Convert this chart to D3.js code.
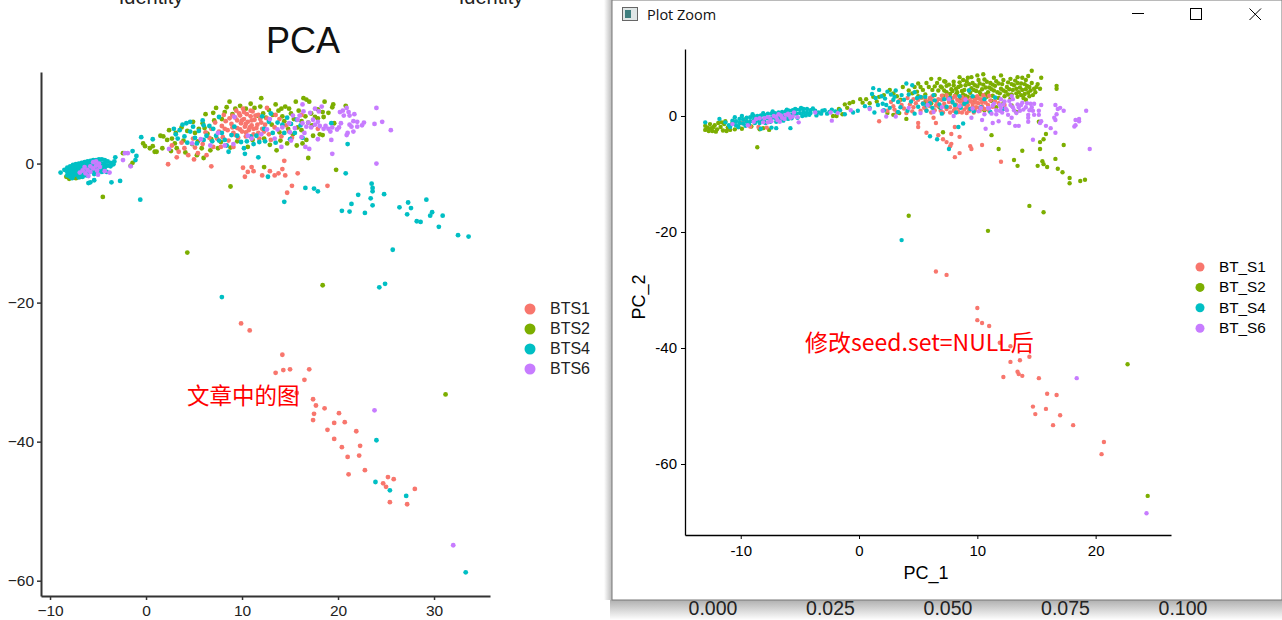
<!DOCTYPE html>
<html><head><meta charset="utf-8">
<script src="https://cdn.jsdelivr.net/npm/d3@7/dist/d3.min.js"></script>
<style>html,body{margin:0;padding:0;background:#fff;overflow:hidden}svg{display:block}</style>
</head><body><svg id="c" width="1282" height="620"></svg>
<script>
const colors=["#7CAE00","#F8766D","#00BFC4","#C77CFF"];
const leftLabels=["BTS1","BTS2","BTS4","BTS6"];
const rightLabels=["BT_S1","BT_S2","BT_S4","BT_S6"];
const legendColors=["#F8766D","#7CAE00","#00BFC4","#C77CFF"];
const leftXTicks=[-10,0,10,20,30];
const leftYTicks=[0,-20,-40,-60];
const rightXTicks=[-10,0,10,20];
const rightYTicks=[0,-20,-40,-60];
const bottomAxisLabels=["0.000","0.025","0.050","0.075","0.100"];

const leftGreen=[[-4.5,-4.8],[4.3,-12.8],[18.4,-17.5],[31.2,-33.2],[8.8,-3.3],[12.3,-0.5],[-8.3,-1.9],[-8,-2.2],[-7.3,-2.1],[-6.8,-1.9],[-2.4,1.5],[-1.4,0.1],[-1.6,-0.3],[-0.3,2.9],[-0.1,2.5],[0.4,2.2],[0.7,2.5],[0.9,1.7],[1.1,1.7],[1.7,2.2],[1.5,4],[1.8,3.9],[2.2,3.4],[2.7,3.6],[3,2.9],[3.2,2.2],[2.6,1.8],[4.1,1.6],[4.8,2.8],[5.3,1.2],[6,0.8],[5.4,3.2],[6.7,1.9],[3.7,5.2],[4.9,6],[5.5,5],[7.3,8],[8.7,8.9],[9,7.1],[10.4,7.9],[10.9,8.6],[12,9.4],[13.5,8.5],[14.9,7.9],[15.1,7.2],[16.4,9.4],[15.9,7.6],[16.7,9.2],[17,8.9],[18.6,8.9],[19.5,8.5],[19.4,8.1],[20.8,8.3],[18.4,7.4],[19,7.3],[18.5,6.7],[17.9,6.5],[17.6,6.7],[19.6,5.8],[17.3,5.5],[16.2,4.8],[17.4,4],[16.7,3.4],[18.1,4.2],[18.4,4.1],[16.9,0.8],[19.8,-0.9],[16.2,6.1],[14.2,6.8],[13.1,5.6],[12.2,7.2],[11.6,6.9],[7.1,6.2],[6.4,4.3],[7.8,3.1],[8.8,2.3],[9.5,3.2],[10.6,2.4],[12.3,3.6],[13.6,1.9],[14.7,2.9],[15.3,4.2],[13.9,4.5],[15.7,2.6],[6.2,7.1],[8.2,7.4],[14.5,8.2],[15.6,8.9],[3.1,4.4],[5.9,5.8],
[2.4,4.8],[3.9,3.3],[4.3,4.7],[5.1,4.4],[5.8,2.2],[6.1,5.1],[6.8,3.5],[7,7.3],[7.5,2.2],[7.9,6.4],[8.4,8.1],[9.3,7.9],[9.8,8.3],[11.3,8],[11.9,8.2],[12.5,6.6],[12.8,7.7],[13.2,7],[13.8,7.6],[14.1,7.9],[14.4,6.1],[14.8,5],[15.4,6.4],[15.8,5.2],[16.6,6.8],[16.9,5.9],[17.2,7.2],[11.1,3.4],[12.9,2.7],[14,3.3],[16.3,2.9],[17.9,7.8]];
const leftRed=[[2.3,-0.1],[6.8,-0.4],[10.1,-0.6],[11,-0.5],[10.6,-1.2],[11.2,-1.1],[10.3,-1.9],[12.1,-1.7],[12.9,-1.1],[13.4,-1.7],[13.8,-1.4],[14.2,-0.8],[14.5,-1.7],[14.4,0.4],[15.8,-1.4],[15.2,-3.2],[14.7,-4.2],[18.9,-3.2],[9.9,-23],[10.8,-24],[14.2,-27.5],[13.5,-30.1],[14.3,-29.7],[15,-29.6],[17,-29.6],[16.5,-31.1],[15.7,-33],[17.4,-33.9],[17.7,-34.8],[18.6,-35.2],[20.1,-35.9],[17.5,-36],[17.4,-36.9],[19.6,-37.3],[20.7,-37.2],[18.9,-38.3],[21.9,-38.5],[19.6,-39.6],[20.4,-40.8],[22.3,-40.6],[21,-42.2],[22.2,-42],[22.8,-44.1],[21.1,-44.7],[25.2,-45.1],[25.8,-45.4],[24.7,-46],[25,-46.5],[28,-46.8],[25.4,-48.7],[27.2,-49],[16.2,7],[17.9,5],[2.7,2.6],[3.4,1.7],[3.2,0.9],[4,2.2],[4.9,3.6],[5.4,1.5],[5.9,2.8],[6.6,3.7],[6.3,1.2],[7,2.4],[7.6,4.6],[7.9,5.4],[8,3.8],[8.3,6.1],[8.5,4.8],[8.6,3.3],[8.9,5.7],[9,6.9],[9.1,4.4],[9.4,7.6],[9.5,6.2],[9.5,5.1],[9.6,3.7],[9.8,6.9],[9.9,5.8],[10,4.6],[10.1,7.9],[10.2,6.4],[10.3,5.3],[10.4,3.9],[10.5,7.1],[10.6,6],[10.7,4.8],[10.9,6.8],[11,5.5],[11.1,7.5],[11.2,4.2],[11.3,6.3],[11.5,5.1],[11.7,7],[11.8,3.6],[12,5.9],[12.3,4.6],[12.6,6.5],[13,3.4],[13.4,5.2],[13.9,6.4],[14.6,5.5],[15.2,3.7],[7.2,5.9],[6.8,5],[8.1,7],[4.4,1.2],[12.6,8],[5,0.6],[9.1,2.4],
[8.2,5],[8.7,6.5],[9,5.2],[9.3,6.6],[9.3,4.1],[9.7,7.2],[9.8,4.9],[10,6.2],[10.2,7.4],[10.4,5.7],[10.4,4.5],[10.8,5.2],[10.9,7.6],[11,6.2],[11.2,5],[11.4,6.9],[11.6,5.6],[11.7,4.4],[11.9,6.4],[12.1,5],[12.4,5.6],[7.4,3.6],[6.2,4.5],[5.1,2.3],[3.7,3],[14.9,4.6],[13.5,7],[12.8,4.2],[7.8,2.4],[14.1,3.9]];
const leftCyan=[[-8.5,-0.9],[-8.2,-0.6],[-8.2,-1.2],[-8.2,-1.7],[-7.9,-0.4],[-7.9,-0.9],[-7.9,-1.4],[-7.9,-1.9],[-7.6,-0.2],[-7.6,-0.8],[-7.6,-1.3],[-7.6,-1.8],[-7.3,-0.1],[-7.3,-0.6],[-7.3,-1.1],[-7.3,-1.6],[-7,0],[-7,-0.5],[-7,-1],[-7,-1.5],[-6.7,0.1],[-6.7,-0.4],[-6.7,-0.9],[-6.7,-1.4],[-6.4,0.2],[-6.4,-0.3],[-6.4,-0.8],[-6.4,-1.3],[-6.1,0.3],[-6.1,-0.2],[-6.1,-0.7],[-6.1,-1.2],[-5.8,0.4],[-5.8,-0.1],[-5.8,-0.6],[-5.8,-1.1],[-5.5,0.5],[-5.5,0],[-5.5,-0.5],[-5.5,-1],[-5.2,0.5],[-5.2,0],[-5.2,-0.5],[-5.2,-1],[-4.9,0.6],[-4.9,0.1],[-4.9,-0.4],[-4.9,-1],[-4.6,0.6],[-4.6,0],[-4.6,-0.6],[-4.3,0.5],[-4.3,-0.1],[-4.3,-0.6],[-4,0.3],[-4,-0.3],[-3.7,0.1],[-3.7,-0.4],[-3.2,0.9],[-3.4,-0.1],[-0.6,-5.2],[-2.7,-2.5],[-3.6,-2.7],[-5.8,-2.7],[-6,-2.8],[-5.4,-2.4],[-8.9,-1.3],[-4.1,-1.2],[-0.5,3.8],[0.7,3.5],[-1.4,1.8],[-1,1.1],[-1.1,0.5],[3.8,5.6],[4.2,5.8],[4.6,6],[3.1,4.2],[2.9,5],[3.3,3.6],[4,3.9],[4.6,4.6],[5.1,3.7],[5.5,4.7],[6,3.4],[5.9,6.2],[6.9,3.2],[7,5],[7.6,3.3],[8.4,2.6],[8.6,1.7],[10.3,1.4],[11.7,0.9],[12.7,-1.9],[14.4,-5.5],[7.9,-19.2],[24.3,-17.8],[24.9,-17.3],[9.2,5.3],[9.5,4],[10.5,3.2],[11.2,2.8],[11.8,3.1],[12.3,5],[12.8,6],[13,7.2],[13.7,5.9],[14.4,4.4],[14.7,6.6],[15.1,5.7],[16.1,5.5],[16.3,3.7],[7.6,6.7],[7.9,4.4],[8.9,4.1],[21,2.8],[20.8,-1.4],[16.6,-3.5],[17.5,-3.6],[17.9,-4],[23.5,-2.9],[23.6,-3.5],[23.6,-4],[24.8,-4.4],[22.1,-4.5],[23.4,-5],[21.4,-5.8],[23.6,-6],[20.4,-6.8],[21.2,-6.9],[22.8,-7.1],[26.4,-6.3],[27.3,-5.6],[27.6,-6.4],[29.2,-5.2],[27.2,-7.3],[28.2,-8.3],[28.6,-8.4],[29.8,-7],[29.6,-7.5],[30.9,-7.5],[30.5,-9.1],[32.5,-10.3],[33.6,-10.5],[25.7,-12.4],[24,-39.8],[23.9,-45.8],[25.4,-47],[27.1,-47.8],[33.3,-58.8],[19.3,5.8],
[-7.7,-2.1],[-7,-2],[-6.6,-1.9],[-6.2,-1.7],[-5.4,-1.5],[-4.6,-1.2],[-3.3,0.3],[3.5,4.8],[4.3,3],[4.9,5.3],[5.3,2.9],[6.3,4],[6.6,5.4],[7.3,4],[8.2,3.4],[9.9,3.1],[10.2,2.2],[10.9,3.9],[11.5,4],[12.4,3.2],[13.2,4.4],[13.5,3],[14.2,5.6],[15,3.5],[15.7,6.3],[15.5,4.4],[12.1,6.8],[6,5.5]];
const leftPurple=[[-6.6,-1],[-6.4,-0.5],[-6.3,-1.4],[-6.1,-0.9],[-6,-1.8],[-5.8,-0.4],[-5.8,-1.2],[-5.5,0.2],[-5.5,-0.7],[-5.2,0.3],[-5.2,-0.3],[-5.1,-1],[-4.9,0],[-4.8,-0.5],[-4.3,-1.1],[-3.8,-1.3],[-5,-1.6],[-1.9,1.5],[-1.6,-0.4],[-2.4,0.5],[-2.2,1.5],[2.4,2.1],[4.8,2.9],[5.7,3.5],[6.7,2.6],[7.5,4.4],[8.2,2.6],[9.1,2.8],[9.2,6.7],[10.6,4],[11,3.6],[12,4.2],[12.6,4.9],[13.4,3.6],[14.2,5.2],[14.9,5.8],[15.3,6.9],[15.8,6.3],[15.1,3.3],[14.1,2.4],[16.3,8.5],[16.4,7.5],[16.3,5.8],[16.2,3.8],[16.6,2.4],[17,2.1],[17.1,7.3],[17.4,6.3],[16.7,5.3],[17.6,7.9],[17.9,3.5],[18.1,5.4],[18.3,8.2],[18.5,5],[19,5],[19.3,3.4],[19.4,1.4],[19.4,5.2],[19.9,4.9],[20.1,5.2],[20.2,7.4],[20.3,5.8],[20.5,7.6],[20.6,6.9],[20.9,8],[20.9,4.1],[21,4.4],[21.1,7.4],[21.2,6.9],[21.2,5.6],[21.4,5.3],[21.6,6.1],[21.6,4.6],[21.7,7.1],[22,6],[22,5.3],[22.5,5.5],[22.7,5.9],[23.8,5.7],[24,8],[24.6,6],[25.5,4.8],[24,0],[23.8,-35.5],[32,-54.9],
[16.9,5.9],[17.2,5.2],[17.6,5.6],[17.9,6],[18.7,5.4],[16,6.9],[16.5,4.4],[15.5,5.1],[15,4.5],[13.7,4.9],[12.9,6.4],[18,7.5],[19.2,4.6],[-6.9,-1.3]];

const rightGreen=[[-13,-1.7],[-13,-2.4],[-12.7,-2.6],[-12.5,-2.1],[-12.4,-2.6],[-12.2,-1.6],[-12,-2.3],[-11.9,-1.2],[-11.7,-1.9],[-11.5,-2.5],[-11.4,-1.4],[-11.3,-0.9],[-11.1,-2],[-10.9,-2.4],[-10.7,-1.2],[-10.5,-2.3],[-12.8,-2],[-12.3,-1.9],[-8.6,-5.4],[-8.4,-2.3],[-2.2,0],[-1.9,0],[-0.8,2.2],[-0.5,2.4],[-1,1.4],[-1.4,0.3],[0.1,2.9],[0.6,2.9],[1.2,3.3],[0.9,2.2],[1.7,3.3],[2.4,0.5],[2.9,0.2],[4,-0.5],[3.4,0.5],[3.7,5],[2.6,4.5],[3.2,3.4],[5.2,5],[6.1,6.4],[6.8,6.4],[5.7,5.7],[5.4,4.5],[6.2,4.5],[7.3,5.9],[8,5.9],[8.5,6.7],[8.8,6.2],[9.5,6.7],[10,7],[10.5,7.2],[12,7],[13.4,6.7],[14.6,7.8],[15.4,6.6],[16.7,5.2],[16.7,4.7],[15.1,5.5],[14.6,5.7],[14.1,6.2],[12.8,6.4],[15.3,4.7],[14.9,4.1],[14.7,3.6],[15.2,-1],
[4.5,3.9],[5,3.4],[5.6,3.7],[6,3],[6.4,3.6],[6.7,4.4],[6.9,5.1],[7.1,3.5],[7.2,4.4],[7.4,5.2],[7.5,3],[7.7,3.8],[7.8,4.6],[8,5.3],[8.1,3.4],[8.3,4.1],[8.4,5],[8.5,5.8],[8.6,3],[8.8,3.7],[8.9,4.5],[9,5.3],[9.1,6],[9.2,3.3],[9.4,4],[9.5,4.8],[9.6,5.7],[9.8,3.2],[9.9,4.3],[10,5.1],[10.1,6.2],[10.3,3.7],[10.4,4.6],[10.5,5.4],[10.6,6.3],[10.8,3.3],[10.9,4.1],[11,4.9],[11.1,5.7],[11.3,3.5],[11.4,4.4],[11.5,5.2],[11.6,6],[11.8,3.1],[11.9,3.9],[12,4.7],[12.1,5.5],[12.3,3.4],[12.4,4.2],[12.5,5],[12.6,5.8],[12.8,3],[12.9,3.7],[13,4.5],[13.1,5.3],[13.2,6.1],[13.4,3.3],[13.5,4.1],[13.6,4.9],[13.7,5.6],[13.9,3.1],[14,3.8],[14.1,4.6],[14.2,5.2],[14.4,3.4],[14.5,4.4],[11.2,2.6],[12.2,2.2],[12.9,1.8],[11.6,1.5],[13.3,0.7],[14.1,2.8],[9.7,2.4],[10.6,1],[6.8,1.5],[5.6,2.4],
[7.1,-2.8],[11.2,-3.3],[11.8,-5.7],[13.8,-6],[13.1,-7.6],[13.4,-8.6],[15.1,-8.6],[15.5,-7.8],[15.6,-8.3],[15.9,-8.8],[16.6,-7.4],[16.8,-9.1],[17.2,-9.7],[17.8,-10.7],[17.8,-11.6],[18.7,-11.2],[19.1,-11],[15.8,-3.1],[15.6,-4],[15.3,-4.5],[15.3,-5.7],[17.3,-5],[14.4,-15.5],[15.6,-16.6],[4.2,-17.2],[10.9,-19.8],[22.7,-42.8],[24.4,-65.5],
[-12.6,-1.4],[-12.1,-2.7],[-11.6,-1.1],[-11.2,-2.6],[-10.2,-1.9],[-9.9,-2.2],[-9.6,-0.6],[-9.1,-1.8],[-8.1,-2.1],[-7.6,-2.4],[-1.7,1.2],[-1.2,2],[0.3,2.3],[1.5,2.5],[2.1,3.6],[2.9,3.9],[3.5,2.8],[4.2,4.4],[4.7,5],[4.9,4.2],[5.3,3.2],[5.9,5],[6.4,5.1],[6.6,5.7],[7,4.9],[7.4,4.1],[7.6,5.4],[7.9,4.3],[8.2,4.7],[8.2,3.7],[8.6,5.2],[8.7,4.3],[9,3.5],[9.3,5.5],[9.3,4.4],[9.7,4.5],[9.8,5.3],[10.2,4.1],[10.2,5.6],[10.7,4.9],[10.7,3.7],[10.8,5.9],[11.2,4.6],[11.3,5.4],[11.7,4.1],[11.8,5.6],[12.2,4.4],[12.2,6.2],[12.6,3.7],[12.7,4.6],[12.9,5.5],[13.3,3.9],[13.3,4.7],[13.4,5.7],[13.7,3.6],[13.8,4.5],[14,5.5],[14.3,4],[14.4,5],[14.8,4.7],[15,5],[7.2,6],[9.2,6.6],[11.4,6.6],[13.8,6.6],[14.3,6.9],[5,5.6],[6.1,2.2]];
const rightRed=[[-10.6,-0.9],[-10,-1.2],[-9.7,-0.7],[-9.2,-1.8],[-8.5,-1.9],[-7.8,-2],[1.7,-0.9],[2.9,1.7],[3.2,0.6],[3.4,2.6],[3.8,1.3],[4.1,3.1],[4.5,0.8],[4.8,2.2],[5,-1.2],[5,-1.9],[5.2,3.2],[5.5,1.4],[5.7,-2.9],[5.8,2.5],[6.1,0.6],[6.2,3.4],[6.3,-0.3],[6.5,1.8],[6.5,-1.2],[6.7,2.9],[6.7,-3.3],[6.9,0.9],[7,3.5],[7.1,-4],[7.2,2.1],[7.4,-4.5],[7.4,1.2],[7.5,3.1],[7.7,-5.2],[7.7,0.6],[7.8,-3.1],[7.8,-4.8],[7.9,2.3],[8.1,3.4],[8.1,1.2],[8.1,-1.9],[8.1,-7.1],[8.3,2.8],[8.4,0.7],[8.5,-3.6],[8.5,-6.4],[8.6,1.8],[8.7,3.3],[8.8,2.4],[8.9,1.1],[9,3],[9.1,0.5],[9.2,1.9],[9.3,2.6],[9.4,-5.2],[9.4,1.2],[9.5,-5.7],[9.5,3.2],[9.6,2.1],[9.7,0.6],[9.8,2.8],[9.9,1.5],[10,3.4],[10.1,2.2],[10.2,0.9],[10.3,2.9],[10.4,1.7],[10.4,-5],[10.5,3.6],[10.7,2.3],[11,3.5],[11.3,1.6],[11.5,2.6],[11.8,2.2],[12,-7.9],[12.3,1.9],[10,-33.1],[10,-35.2],[10.4,-35.7],[11,-36.2],[11.9,-39.1],[12.8,-39.7],[12.8,-42.4],[13.6,-42.1],[14.4,-41.5],[13.4,-44.1],[13.5,-44.5],[13.8,-44.8],[12.2,-45],[15.2,-45.2],[15.9,-47.9],[16.7,-48.1],[14.7,-50.1],[15.8,-50.5],[14.9,-51.4],[17,-51.6],[16.4,-53.3],[18.1,-53.3],[20.7,-56.2],[20.5,-58.3],[6.5,-26.8],[7.4,-27.4],
[2.4,0.9],[2.7,2.4],[3,1.1],[3.6,1.9],[4,0.5],[4.3,2],[4.6,1.5],[5,2.8],[5.2,0.9],[5.4,2.2],[5.7,1],[6,1.7],[6.2,2.7],[6.4,1],[6.6,2.3],[6.8,1.7],[7,2.8],[7.1,0.6],[7.3,1.6],[7.6,2.4],[7.7,1.5],[7.9,3.1],[8,0.9],[8.2,2],[8.4,1.4],[8.5,2.5],[8.7,0.6],[8.9,2],[9,2.6],[9.1,1.5],[9.3,0.9],[9.5,2.5],[9.6,1.6],[9.8,1],[9.9,2.3],[10.1,3],[10.2,1.4],[10.4,2.4],[10.6,1.2],[10.6,3.2],[10.9,1.9],[11.1,2.7],[11,0.9],[8.8,3],[7.4,3.6],[6,3.1],[5.6,3],[4.6,2.9]];
const rightCyan=[[-11.3,-1.1],[-11,-1.6],[-10.7,-0.8],[-10.7,-1.4],[-10.4,-0.9],[-10.4,-1.6],[-10.1,-0.5],[-10.1,-1.2],[-9.8,-0.6],[-9.8,-1.3],[-9.5,-0.3],[-9.5,-1],[-9.2,-0.2],[-9.2,-0.9],[-8.9,0],[-8.9,-0.7],[-8.6,0],[-8.6,-0.8],[-8.3,0.1],[-8.3,-0.6],[-8,0.2],[-8,-0.6],[-7.7,0.4],[-7.7,-0.4],[-7.4,0.4],[-7.4,-0.4],[-7.1,0.5],[-7.1,-0.3],[-6.8,0.6],[-6.8,-0.2],[-6.5,0.7],[-6.5,0],[-6.2,0.8],[-6.2,0.1],[-5.9,0.9],[-5.9,0.2],[-5.6,1],[-5.6,0.3],[-5.3,1.1],[-5.3,0.4],[-5,1.1],[-5,0.5],[-4.7,1.2],[-4.7,0.6],[-4.4,1.2],[-4.4,0.6],[-4.1,1],[-4.1,0.5],[-3.7,0.9],[-3.4,0.6],[-3.1,0.9],[-2.7,0.4],[-2.3,1.1],[-2,0.8],[-1.6,1],[-1.2,0.3],[-8.3,-2.2],[-7.4,-2],[-7,-2.1],[-5.8,-2.1],[-13,-1.1],[-11.8,-0.5],[0.5,1.7],[-0.1,0.9],[-0.5,0.6],[1.1,3.8],[1.2,4.8],[1.7,4.5],[2,2.1],[2.2,3],[2.6,1.4],[2.7,3.7],[3.3,2.4],[3.1,4.4],[3.6,3.6],[4,5.6],[4.5,5.3],[4.7,4.1],[5.2,3.3],[5.4,2.1],[5.7,0.9],[6.2,1.4],[6.4,2.7],[6.6,-4],[6.8,2],[7,0.4],[7.4,1.6],[7.6,-5.7],[7.2,2.9],[7.9,2.4],[8.2,0.6],[8.4,-1.9],[8.5,3.4],[8.6,1.4],[8.8,-1.3],[6,-3.5],[9.1,2.4],[9.3,4.4],[9.6,3.4],[9.7,0.8],[10.3,1.5],[10.6,2.9],[11.1,0.7],[11.5,3.2],[12.2,1.2],[5.7,1.8],[3.6,-21.4],
[-10.9,-1.9],[-10.5,-0.2],[-10.2,-1.9],[-9.9,0],[-9.6,-1.7],[-9.3,-1.4],[-9,0.3],[-8.8,-1.2],[-8.4,-1.2],[-8.1,0.5],[-7.9,-1.2],[-7.5,-1],[-7.3,0.8],[-7,-1],[-6.7,-0.7],[-6.4,-0.8],[-6,-0.5],[-5.7,-0.4],[-5.4,1.2],[-5.2,-0.3],[-4.8,0],[-4.5,0.1],[-4.2,0.2],[-3.9,1.3],[-3.6,0.1],[-3.2,0.4],[-2.9,1],[-2.5,0.7],[-6.1,1.1],[-4.9,1.4],[1.4,3.1],[1.6,1.9],[1.9,3.4],[2.3,1.9],[2.4,4.2],[2.9,2.8],[3,3.3],[3.5,1.5],[3.8,2.8],[4.2,3.7],[4.4,2.5],[4.9,3.1],[5,1.6],[5.6,3.3],[6,2.2],[6.3,3.6],[6.9,1.4],[7.7,3.1],[8.1,1.9],[8.9,2.1],[9.4,1.2],[2.1,1],[3.3,0.7],[4.1,0.9],[4.7,0.4],[0.9,1.4],[1.3,0.6]];
const rightPurple=[[-9.4,-1.6],[-8.9,-1],[-8.4,-0.4],[-8.1,-1.1],[-7.7,-0.2],[-7.4,-0.9],[-7.2,0],[-6.9,-0.7],[-6.6,0.1],[-6.3,-0.5],[-6,0.4],[-5.8,-0.3],[-5.5,0.6],[-5.2,-0.2],[-7.7,-1.1],[-5.1,-1.1],[-3.7,0.6],[-2.4,0.6],[-2.3,-0.8],[-1.8,0.5],[-0.7,1],[0.9,1.2],[2,0.9],[2.3,-0.1],[3.1,-0.1],[4.2,1.4],[5.2,0.5],[5.8,1.9],[6.3,0.7],[7,1.5],[7.6,2.9],[8,0],[8.5,1.7],[9,2.8],[9.5,-0.3],[9.6,1.3],[10.1,0.8],[10.4,-0.7],[10.7,-2.2],[10.9,1.4],[11.2,0.4],[11.3,-1.2],[11.4,2.1],[11.6,1],[11.8,-0.9],[11.9,1.9],[12.1,0.6],[12.3,2.5],[12.4,1.3],[12.6,0.2],[12.7,-1.2],[12.8,1.9],[12.9,-0.3],[13,2.9],[13.1,1],[13.2,-1.7],[13.4,2],[13.5,-1.7],[13.6,0.9],[13.8,2.3],[14.1,1.5],[14.3,0.2],[14.3,-0.3],[14.3,-1],[14.5,2.1],[14.6,1.5],[14.7,0.9],[14.7,-4.1],[14.8,0.2],[15.2,0.9],[15.2,0.2],[15.3,-1.2],[15.4,1.9],[15.4,-0.9],[15.8,-1.7],[16.2,-2.1],[16.5,-0.3],[16.6,1.9],[16.6,-0.7],[16.6,-2.9],[16.7,0.3],[16.8,1.2],[17,1.4],[17.3,0.9],[18.3,-0.7],[18.3,-1.6],[18.6,-0.5],[18.6,-0.9],[18.2,-1.8],[19.2,0.9],[19.5,-5.7],[18.4,-45.2],[24.3,-68.5],
[-8.7,-0.5],[-8,-0.4],[-7.5,-0.5],[-7,-0.2],[-6.8,0.3],[-6.5,-0.3],[-6.2,0.2],[-5.9,0.1],[-5.6,-0.1],[-6.7,-1],[-10.7,-1.4],[10.6,0.3],[11,1.3],[11.3,1.8],[11.6,0.3],[11.9,0.9],[12,1.4],[12.2,2],[12.5,1],[12.7,2.6],[13,1.5],[13.3,0.5],[13.5,1.5],[13.7,1.9],[13.9,1.1],[14.2,2.2],[14.4,1],[14.8,2.1],[12,2.9],[12.9,3.4],[10.3,1.4]];

const svg=d3.select("#c");
const defs=svg.append("defs");
const gL=defs.append("linearGradient").attr("id","shL");
gL.append("stop").attr("offset","0").attr("stop-color","#fff");
gL.append("stop").attr("offset","1").attr("stop-color","#b8b8b8");
const gB=defs.append("linearGradient").attr("id","shB").attr("x1",0).attr("x2",0).attr("y1",0).attr("y2",1);
gB.append("stop").attr("offset","0").attr("stop-color","#b0b0b0");
gB.append("stop").attr("offset","1").attr("stop-color","#fff");

const sans="'Liberation Sans',Arial,sans-serif";
const ui="'Open Sans','Noto Sans',sans-serif";
const cjk="'Noto Sans CJK SC','Noto Sans',sans-serif";

function txt(x,y,s,size,fill,anchor,family){
  return svg.append("text").attr("x",x).attr("y",y).text(s).attr("font-size",size)
   .attr("fill",fill||"#000").attr("text-anchor",anchor||"start").attr("font-family",family||sans);
}
// cropped headers above the left figure
txt(151,4,"Identity",20,"#222","middle");
txt(491,4,"Identity",20,"#222","middle");
txt(303,53,"PCA",36,"#111","middle");

function panel(o){
  const x=d3.scaleLinear().domain(o.xd).range([o.l,o.r]);
  const y=d3.scaleLinear().domain(o.yd).range([o.b,o.t]);
  const g=svg.append("g");
  o.series.forEach((pts,i)=>{
    g.append("g").selectAll("circle").data(pts).join("circle")
     .attr("cx",d=>x(d[0])).attr("cy",d=>y(d[1])).attr("r",o.rad).attr("fill",colors[i]);
  });
  const ax=svg.append("g").attr("transform",`translate(0,${o.b})`)
    .call(d3.axisBottom(x).tickValues(o.xt).tickSize(o.ts).tickSizeOuter(0).tickPadding(o.tp).tickFormat(o.fmt));
  const ay=svg.append("g").attr("transform",`translate(${o.l},0)`)
    .call(d3.axisLeft(y).tickValues(o.yt).tickSize(o.ts).tickSizeOuter(0).tickPadding(o.tpy).tickFormat(o.fmt));
  [ax,ay].forEach(a=>{
    a.selectAll("path").attr("stroke",o.ac).attr("stroke-width",o.aw);
    a.selectAll("line").attr("stroke",o.ac).attr("stroke-width",o.aw>1.5?1.5:1);
    a.selectAll("text").attr("font-size",o.fs).attr("font-family",sans).attr("fill",o.tc);
  });
}
panel({xd:[-10.94,35.83],yd:[-62.2,13.17],l:41,r:490,t:72,b:596,rad:2.4,
  series:[leftGreen,leftRed,leftCyan,leftPurple],xt:leftXTicks,yt:leftYTicks,ts:4,tp:5,tpy:3,
  fmt:d3.format("d"),ac:"#333",aw:2,fs:15.5,tc:"#222"});
leftLabels.forEach((s,i)=>{
  svg.append("circle").attr("cx",530).attr("cy",309+i*20).attr("r",5.5).attr("fill",legendColors[i]);
  txt(550,314+i*20,s,16,"#222");
});
txt(187,404,"文章中的图",22.5,"#f00","start",cjk);

// window
svg.append("rect").attr("x",604).attr("y",0).attr("width",8).attr("height",600).attr("fill","url(#shL)");
svg.append("rect").attr("x",610).attr("y",600).attr("width",672).attr("height",20).attr("fill","url(#shB)");
svg.append("rect").attr("x",612).attr("y",0).attr("width",670).attr("height",600).attr("fill","#fff").attr("stroke","#777").attr("stroke-width",1);
svg.append("rect").attr("x",622.5).attr("y",7.5).attr("width",15).attr("height",13).attr("fill","#dfe6e6").attr("stroke","#666");
svg.append("rect").attr("x",625).attr("y",10).attr("width",6).attr("height",8).attr("fill","#3f7f7f");
txt(647,19.5,"Plot Zoom",14.5,"#111","start",ui);
svg.append("line").attr("x1",1132).attr("x2",1144).attr("y1",13.5).attr("y2",13.5).attr("stroke","#000");
svg.append("rect").attr("x",1190.5).attr("y",8.5).attr("width",11).attr("height",11).attr("fill","none").attr("stroke","#000");
svg.append("path").attr("d","M1249.5 8.5L1261 20M1261 8.5L1249.5 20").attr("stroke","#000").attr("fill","none");

panel({xd:[-14.71,26.37],yd:[-72.24,11.55],l:685,r:1171,t:49,b:535,rad:2.2,
  series:[rightGreen,rightRed,rightCyan,rightPurple],xt:rightXTicks,yt:rightYTicks,ts:4,tp:6,tpy:4,
  fmt:d=>String(d),ac:"#000",aw:1.3,fs:15,tc:"#000"});
txt(926,579,"PC_1",18,"#000","middle");
svg.append("text").attr("transform","translate(645,297) rotate(-90)").attr("text-anchor","middle")
  .attr("font-size",18).attr("font-family",sans).text("PC_2");
rightLabels.forEach((s,i)=>{
  svg.append("circle").attr("cx",1200).attr("cy",267+i*20.4).attr("r",4.5).attr("fill",legendColors[i]);
  txt(1219,272+i*20.4,s,15.3,"#000");
});
txt(805,351,"修改seed.set=NULL后",23,"#f00","start",cjk);

// bottom axis of a figure hidden behind the window
const bottomX=d3.scalePoint().domain(bottomAxisLabels).range([713,1183]);
bottomAxisLabels.forEach(s=>txt(bottomX(s),614.5,s,19.5,"#222","middle"));
</script></body></html>
